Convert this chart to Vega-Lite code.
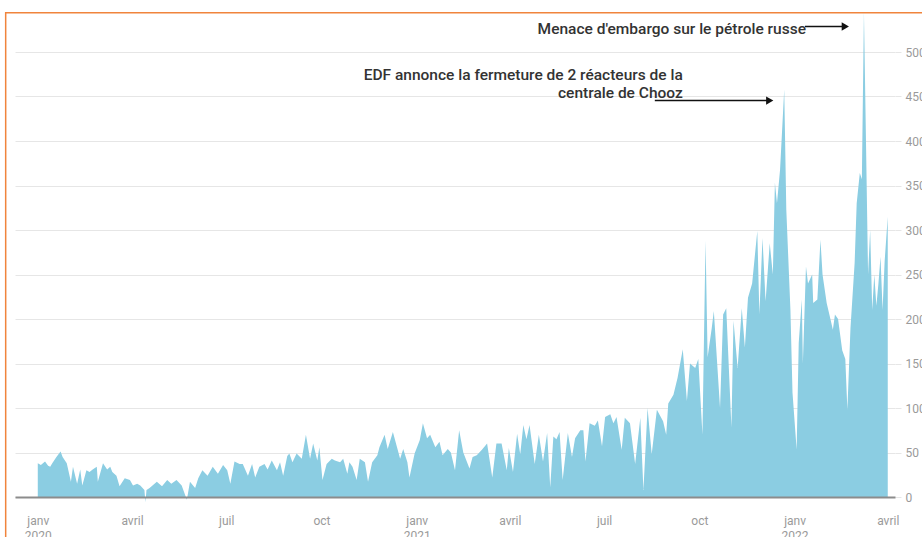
{
  "$schema": "https://vega.github.io/schema/vega-lite/v6.json",
  "width": 880,
  "height": 445,
  "autosize": {"type": "none"},
  "padding": {"left": 15, "top": 52, "right": 27, "bottom": 40},
  "background": "white",
  "config": {"view": {"stroke": null}, "font": "Roboto"},
  "datasets": {
    "prix": [
      {"d":"2020-01-01","v":38},{"d":"2020-01-04","v":36},{"d":"2020-01-08","v":40},{"d":"2020-01-11","v":35},{"d":"2020-01-13","v":34},{"d":"2020-01-15","v":38},{"d":"2020-01-19","v":45},{"d":"2020-01-23","v":51},{"d":"2020-01-25","v":45},{"d":"2020-01-29","v":38},
      {"d":"2020-02-02","v":17},{"d":"2020-02-04","v":34},{"d":"2020-02-08","v":15},{"d":"2020-02-11","v":31},{"d":"2020-02-13","v":13},{"d":"2020-02-17","v":30},{"d":"2020-02-20","v":28},{"d":"2020-02-23","v":31},{"d":"2020-02-27","v":34},{"d":"2020-02-28","v":17},
      {"d":"2020-03-04","v":38},{"d":"2020-03-08","v":31},{"d":"2020-03-11","v":34},{"d":"2020-03-13","v":28},{"d":"2020-03-17","v":24},{"d":"2020-03-20","v":12},{"d":"2020-03-25","v":21},{"d":"2020-03-30","v":19},
      {"d":"2020-04-02","v":13},{"d":"2020-04-06","v":15},{"d":"2020-04-09","v":13},{"d":"2020-04-13","v":8},{"d":"2020-04-14","v":-6},{"d":"2020-04-15","v":8},{"d":"2020-04-18","v":10},{"d":"2020-04-25","v":17},{"d":"2020-04-30","v":12},
      {"d":"2020-05-05","v":19},{"d":"2020-05-09","v":15},{"d":"2020-05-14","v":19},{"d":"2020-05-19","v":13},{"d":"2020-05-24","v":-3},{"d":"2020-05-27","v":17},
      {"d":"2020-06-01","v":10},{"d":"2020-06-04","v":21},{"d":"2020-06-08","v":30},{"d":"2020-06-13","v":24},{"d":"2020-06-18","v":34},{"d":"2020-06-23","v":26},{"d":"2020-06-28","v":36},
      {"d":"2020-07-02","v":30},{"d":"2020-07-05","v":15},{"d":"2020-07-09","v":40},{"d":"2020-07-14","v":37},{"d":"2020-07-17","v":37},{"d":"2020-07-22","v":24},{"d":"2020-07-26","v":37},{"d":"2020-07-29","v":22},
      {"d":"2020-08-02","v":34},{"d":"2020-08-07","v":37},{"d":"2020-08-10","v":31},{"d":"2020-08-14","v":41},{"d":"2020-08-19","v":30},{"d":"2020-08-22","v":39},{"d":"2020-08-25","v":24},{"d":"2020-08-29","v":46},{"d":"2020-08-31","v":49},
      {"d":"2020-09-03","v":39},{"d":"2020-09-07","v":49},{"d":"2020-09-12","v":43},{"d":"2020-09-16","v":70},{"d":"2020-09-20","v":43},{"d":"2020-09-23","v":60},{"d":"2020-09-27","v":41},{"d":"2020-09-29","v":56},
      {"d":"2020-10-02","v":19},{"d":"2020-10-06","v":37},{"d":"2020-10-11","v":43},{"d":"2020-10-14","v":41},{"d":"2020-10-19","v":39},{"d":"2020-10-22","v":43},{"d":"2020-10-26","v":26},{"d":"2020-10-28","v":39},{"d":"2020-10-31","v":34},
      {"d":"2020-11-04","v":19},{"d":"2020-11-07","v":43},{"d":"2020-11-12","v":39},{"d":"2020-11-15","v":17},{"d":"2020-11-19","v":39},{"d":"2020-11-24","v":47},{"d":"2020-11-26","v":56},
      {"d":"2020-12-01","v":70},{"d":"2020-12-04","v":54},{"d":"2020-12-09","v":73},{"d":"2020-12-13","v":56},{"d":"2020-12-16","v":43},{"d":"2020-12-19","v":54},{"d":"2020-12-23","v":39},{"d":"2020-12-25","v":22},{"d":"2020-12-30","v":49},
      {"d":"2021-01-04","v":64},{"d":"2021-01-07","v":83},{"d":"2021-01-11","v":66},{"d":"2021-01-14","v":70},{"d":"2021-01-19","v":56},{"d":"2021-01-23","v":62},{"d":"2021-01-26","v":47},{"d":"2021-01-31","v":54},
      {"d":"2021-02-03","v":50},{"d":"2021-02-07","v":30},{"d":"2021-02-11","v":75},{"d":"2021-02-15","v":50},{"d":"2021-02-21","v":32},{"d":"2021-02-24","v":45},{"d":"2021-02-28","v":47},
      {"d":"2021-03-05","v":53},{"d":"2021-03-10","v":60},{"d":"2021-03-15","v":22},{"d":"2021-03-19","v":60},{"d":"2021-03-24","v":60},{"d":"2021-03-29","v":30},{"d":"2021-03-31","v":55},
      {"d":"2021-04-04","v":28},{"d":"2021-04-08","v":71},{"d":"2021-04-11","v":48},{"d":"2021-04-14","v":81},{"d":"2021-04-17","v":65},{"d":"2021-04-20","v":81},{"d":"2021-04-25","v":37},{"d":"2021-04-29","v":70},
      {"d":"2021-05-03","v":40},{"d":"2021-05-07","v":72},{"d":"2021-05-10","v":11},{"d":"2021-05-13","v":68},{"d":"2021-05-16","v":65},{"d":"2021-05-19","v":73},{"d":"2021-05-22","v":19},{"d":"2021-05-27","v":72},{"d":"2021-05-31","v":45},
      {"d":"2021-06-03","v":66},{"d":"2021-06-08","v":75},{"d":"2021-06-11","v":75},{"d":"2021-06-13","v":40},{"d":"2021-06-17","v":83},{"d":"2021-06-22","v":80},{"d":"2021-06-25","v":86},{"d":"2021-06-29","v":57},
      {"d":"2021-07-02","v":90},{"d":"2021-07-07","v":93},{"d":"2021-07-10","v":83},{"d":"2021-07-13","v":90},{"d":"2021-07-18","v":53},{"d":"2021-07-21","v":89},{"d":"2021-07-26","v":83},{"d":"2021-07-31","v":37},
      {"d":"2021-08-05","v":89},{"d":"2021-08-08","v":8},{"d":"2021-08-12","v":100},{"d":"2021-08-16","v":48},{"d":"2021-08-21","v":98},{"d":"2021-08-27","v":85},{"d":"2021-08-30","v":70},
      {"d":"2021-09-01","v":105},{"d":"2021-09-06","v":115},{"d":"2021-09-10","v":134},{"d":"2021-09-15","v":166},{"d":"2021-09-19","v":108},{"d":"2021-09-22","v":150},{"d":"2021-09-27","v":145},{"d":"2021-09-30","v":155},
      {"d":"2021-10-04","v":70},{"d":"2021-10-07","v":288},{"d":"2021-10-09","v":157},{"d":"2021-10-13","v":190},{"d":"2021-10-15","v":209},{"d":"2021-10-21","v":100},{"d":"2021-10-24","v":205},{"d":"2021-10-27","v":212},
      {"d":"2021-11-01","v":78},{"d":"2021-11-03","v":198},{"d":"2021-11-07","v":145},{"d":"2021-11-11","v":212},{"d":"2021-11-14","v":168},{"d":"2021-11-17","v":224},{"d":"2021-11-21","v":240},{"d":"2021-11-26","v":299},{"d":"2021-11-28","v":205},
      {"d":"2021-12-01","v":291},{"d":"2021-12-04","v":220},{"d":"2021-12-08","v":285},{"d":"2021-12-11","v":250},{"d":"2021-12-13","v":353},{"d":"2021-12-15","v":330},{"d":"2021-12-18","v":368},{"d":"2021-12-22","v":458},{"d":"2021-12-24","v":323},{"d":"2021-12-28","v":210},{"d":"2021-12-30","v":117},
      {"d":"2022-01-03","v":53},{"d":"2022-01-05","v":173},{"d":"2022-01-08","v":222},{"d":"2022-01-09","v":150},{"d":"2022-01-12","v":259},{"d":"2022-01-14","v":240},{"d":"2022-01-18","v":250},{"d":"2022-01-19","v":218},{"d":"2022-01-23","v":222},{"d":"2022-01-26","v":289},{"d":"2022-01-28","v":250},
      {"d":"2022-02-01","v":218},{"d":"2022-02-04","v":203},{"d":"2022-02-07","v":188},{"d":"2022-02-09","v":205},{"d":"2022-02-12","v":200},{"d":"2022-02-16","v":165},{"d":"2022-02-19","v":155},{"d":"2022-02-21","v":98},{"d":"2022-02-24","v":190},{"d":"2022-02-28","v":263},
      {"d":"2022-03-02","v":330},{"d":"2022-03-05","v":364},{"d":"2022-03-07","v":357},{"d":"2022-03-09","v":545},{"d":"2022-03-11","v":398},{"d":"2022-03-13","v":250},{"d":"2022-03-15","v":300},{"d":"2022-03-17","v":210},{"d":"2022-03-19","v":250},{"d":"2022-03-21","v":215},{"d":"2022-03-23","v":240},{"d":"2022-03-25","v":270},{"d":"2022-03-27","v":210},{"d":"2022-03-29","v":265},{"d":"2022-04-01","v":315}
    ],
    "cadre": [{"d":"2019-12-01","d2":"2022-07-01","v":544,"v2":-80}],
    "fleches": [
      {"d":"2022-01-11","d2":"2022-02-18","v":528.7},
      {"d":"2021-08-19","d2":"2021-12-06","v":445.4}
    ],
    "pointes": [
      {"d":"2022-02-19","v":528.7},
      {"d":"2021-12-08","v":445.4}
    ],
    "textes": [
      {"d":"2022-01-12","v":525.3,"t":"Menace d'embargo sur le pétrole russe"},
      {"d":"2021-09-15","v":474.7,"t":"EDF annonce la fermeture de 2 réacteurs de la"},
      {"d":"2021-09-15","v":454.4,"t":"centrale de Chooz"}
    ]
  },
  "encoding": {
    "x": {
      "field": "d",
      "type": "temporal",
      "scale": {
        "type": "utc",
        "domain": [
          {"year": 2019, "month": 12, "date": 10, "utc": true},
          {"year": 2022, "month": 4, "date": 8, "utc": true}
        ]
      },
      "axis": {
        "title": null,
        "grid": false,
        "ticks": false,
        "domainColor": "#8c8c8c",
        "domainWidth": 2,
        "labelColor": "#9a9a9a",
        "labelFont": "Roboto",
        "labelFontSize": 12,
        "labelPadding": 18,
        "labelLineHeight": 15,
        "labelOverlap": false,
        "labelBound": false,
        "zindex": 1,
        "values": [
          {"year": 2020, "month": 1, "date": 1, "utc": true},
          {"year": 2020, "month": 4, "date": 1, "utc": true},
          {"year": 2020, "month": 7, "date": 1, "utc": true},
          {"year": 2020, "month": 10, "date": 1, "utc": true},
          {"year": 2021, "month": 1, "date": 1, "utc": true},
          {"year": 2021, "month": 4, "date": 1, "utc": true},
          {"year": 2021, "month": 7, "date": 1, "utc": true},
          {"year": 2021, "month": 10, "date": 1, "utc": true},
          {"year": 2022, "month": 1, "date": 1, "utc": true},
          {"year": 2022, "month": 4, "date": 1, "utc": true}
        ],
        "labelExpr": "utcmonth(datum.value) == 0 ? ['janv', utcFormat(datum.value, '%Y')] : utcmonth(datum.value) == 3 ? 'avril' : utcmonth(datum.value) == 6 ? 'juil' : 'oct'"
      }
    },
    "y": {
      "field": "v",
      "type": "quantitative",
      "scale": {"domain": [0, 500], "nice": false, "zero": false},
      "axis": {
        "title": null,
        "orient": "right",
        "values": [0, 50, 100, 150, 200, 250, 300, 350, 400, 450, 500],
        "grid": true,
        "gridColor": "#e6e6e6",
        "gridWidth": 1,
        "domain": false,
        "tickColor": "#e6e6e6",
        "tickSize": 6,
        "labelColor": "#9a9a9a",
        "labelFont": "Roboto",
        "labelFontSize": 12,
        "labelPadding": 4
      }
    }
  },
  "layer": [
    {
      "data": {"name": "cadre"},
      "mark": {"type": "rect", "fillOpacity": 0, "stroke": "#f0843c", "strokeWidth": 1.5, "clip": false},
      "encoding": {"x2": {"field": "d2"}, "y2": {"field": "v2"}}
    },
    {
      "data": {"name": "prix"},
      "mark": {"type": "area", "color": "#8bcde2", "interpolate": "linear", "clip": false},
      "encoding": {}
    },
    {
      "data": {"name": "fleches"},
      "mark": {"type": "rule", "color": "#111111", "strokeWidth": 1.5, "clip": false},
      "encoding": {"x2": {"field": "d2"}}
    },
    {
      "data": {"name": "pointes"},
      "mark": {"type": "point", "shape": "triangle-right", "filled": true, "color": "#111111", "opacity": 1, "size": 70, "clip": false},
      "encoding": {}
    },
    {
      "data": {"name": "textes"},
      "mark": {"type": "text", "align": "right", "baseline": "middle", "font": "Roboto", "fontSize": 15.5, "fontWeight": 500, "color": "#333333", "clip": false},
      "encoding": {"text": {"field": "t"}}
    }
  ]
}
